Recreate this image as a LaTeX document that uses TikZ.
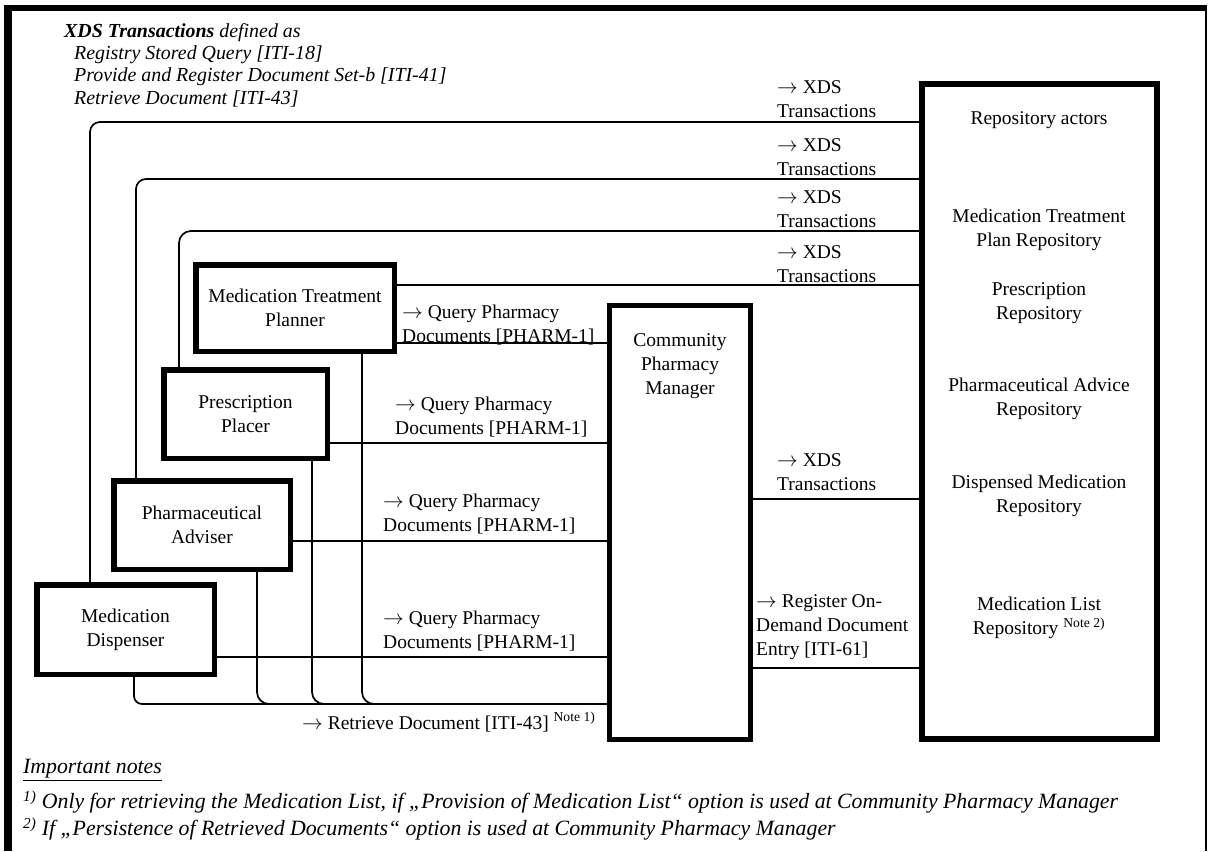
\documentclass[tikz,border=0pt]{standalone}
\usepackage{fontspec}
\setmainfont{Liberation Serif}
\newcommand\mainfs{\fontsize{19.5}{24}\selectfont}
\newcommand\headfs{\fontsize{19.9}{22.3}\selectfont}
\newcommand\notefs{\fontsize{21.8}{27}\selectfont}
\newcommand\ar{$\rightarrow$}
\begin{document}
\begin{tikzpicture}[x=1pt,y=-1pt,
  box/.style={draw, line width=5.5pt, fill=white, inner sep=0pt, align=center, font=\mainfs},
  conn/.style={line width=1.7pt},
  lbl/.style={inner sep=0pt, align=left, anchor=west, font=\mainfs},
  ctext/.style={inner sep=0pt, align=center, font=\mainfs},
  note/.style={inner sep=0pt, align=left, anchor=west, font=\notefs\itshape},
]
\useasboundingbox (0,0) rectangle (1209,851);
% outer frame
\draw[line width=8pt] (8,851) -- (8,5);
\draw[line width=6pt] (4,8) -- (1207,8);
\draw[line width=2.5pt] (1206,5) -- (1206,851);

% header
\node[note, font=\headfs\itshape] (head) at (64,65) {\textbf{XDS Transactions} defined as\\
\hspace*{10pt}Registry Stored Query [ITI-18]\\
\hspace*{10pt}Provide and Register Document Set-b [ITI-41]\\
\hspace*{10pt}Retrieve Document [ITI-43]};

% actor boxes
\node[box, minimum width=198.5pt, minimum height=86.5pt] (mtp) at (295,308) {Medication Treatment\\Planner};
\node[box, minimum width=163.5pt, minimum height=88.5pt] (pp) at (245.5,414) {Prescription\\Placer};
\node[box, minimum width=176.5pt, minimum height=88.5pt] (pa) at (202,525) {Pharmaceutical\\Adviser};
\node[box, minimum width=177.5pt, minimum height=89.5pt] (md) at (125.5,629.5) {Medication\\Dispenser};
\node[box, line width=5pt, minimum width=141pt, minimum height=434pt] (cpm) at (680,522.5) {};
\node[ctext] (cpmt) at (680,366) {Community\\Pharmacy\\Manager};
\node[box, line width=6pt, minimum width=235pt, minimum height=655pt] (repo) at (1039.5,411.5) {};

% repository texts
\node[ctext] (r1) at (1039,120) {Repository actors};
\node[ctext] (r2) at (1039,229.5) {Medication Treatment\\Plan Repository};
\node[ctext] (r3) at (1039,303) {Prescription\\Repository};
\node[ctext] (r4) at (1039,399) {Pharmaceutical Advice\\Repository};
\node[ctext] (r5) at (1039,495.5) {Dispensed Medication\\Repository};
\node[ctext] (r6) at (1039,618) {Medication List\\Repository \textsuperscript{Note 2)}};

% XDS connectors to the repository
\draw[conn, rounded corners=10pt] (md.north -| 90,0) |- (repo.west |- 0,122);
\draw[conn, rounded corners=10pt] (pa.north -| 136,0) |- (repo.west |- 0,179);
\draw[conn, rounded corners=12pt] (pp.north -| 179,0) |- (repo.west |- 0,231);
\draw[conn] (mtp.east |- 0,285) -- (repo.west |- 0,285);
\draw[conn] (cpm.east |- 0,499) -- (repo.west |- 0,499);
\draw[conn] (cpm.east |- 0,668) -- (repo.west |- 0,668);

% query connectors to the community pharmacy manager
\draw[conn] (mtp.east |- 0,343) -- (cpm.west |- 0,343);
\draw[conn] (pp.east |- 0,443) -- (cpm.west |- 0,443);
\draw[conn] (pa.east |- 0,541) -- (cpm.west |- 0,541);
\draw[conn] (md.east |- 0,657) -- (cpm.west |- 0,657);

% retrieve connectors
\draw[conn, rounded corners=8pt] (md.south -| 134,0) |- (cpm.west |- 0,704);
\draw[conn, rounded corners=12pt] (pa.south -| 257,0) |- (cpm.west |- 0,704);
\draw[conn, rounded corners=12pt] (pp.south -| 312,0) |- (cpm.west |- 0,704);
\draw[conn, rounded corners=12pt] (mtp.south -| 362,0) |- (cpm.west |- 0,704);

% labels
\node[lbl] (x1) at (777,99) {\ar{} XDS\\Transactions};
\node[lbl] (x2) at (777,157) {\ar{} XDS\\Transactions};
\node[lbl] (x3) at (777,209) {\ar{} XDS\\Transactions};
\node[lbl] (x4) at (777,264) {\ar{} XDS\\Transactions};
\node[lbl] (x5) at (777,472) {\ar{} XDS\\Transactions};
\node[lbl] (reg) at (756,627) {\ar{} Register On-\\Demand Document\\Entry [ITI-61]};
\node[lbl] (q1) at (402,325) {\ar{} Query Pharmacy\\Documents [PHARM-1]};
\node[lbl] (q2) at (395,417) {\ar{} Query Pharmacy\\Documents [PHARM-1]};
\node[lbl] (q3) at (383,514) {\ar{} Query Pharmacy\\Documents [PHARM-1]};
\node[lbl] (q4) at (383,631) {\ar{} Query Pharmacy\\Documents [PHARM-1]};
\node[lbl] (ret) at (302,722) {\ar{} Retrieve Document [ITI-43] \textsuperscript{Note 1)}};

% notes
\node[note] (nt) at (23,770) {\underline{Important notes}};
\node[note] (n1) at (23,802) {\textsuperscript{1)} Only for retrieving the Medication List, if „Provision of Medication List“ option is used at Community Pharmacy Manager};
\node[note] (n2) at (23,829) {\textsuperscript{2)} If „Persistence of Retrieved Documents“ option is used at Community Pharmacy Manager};
\end{tikzpicture}
\end{document}
